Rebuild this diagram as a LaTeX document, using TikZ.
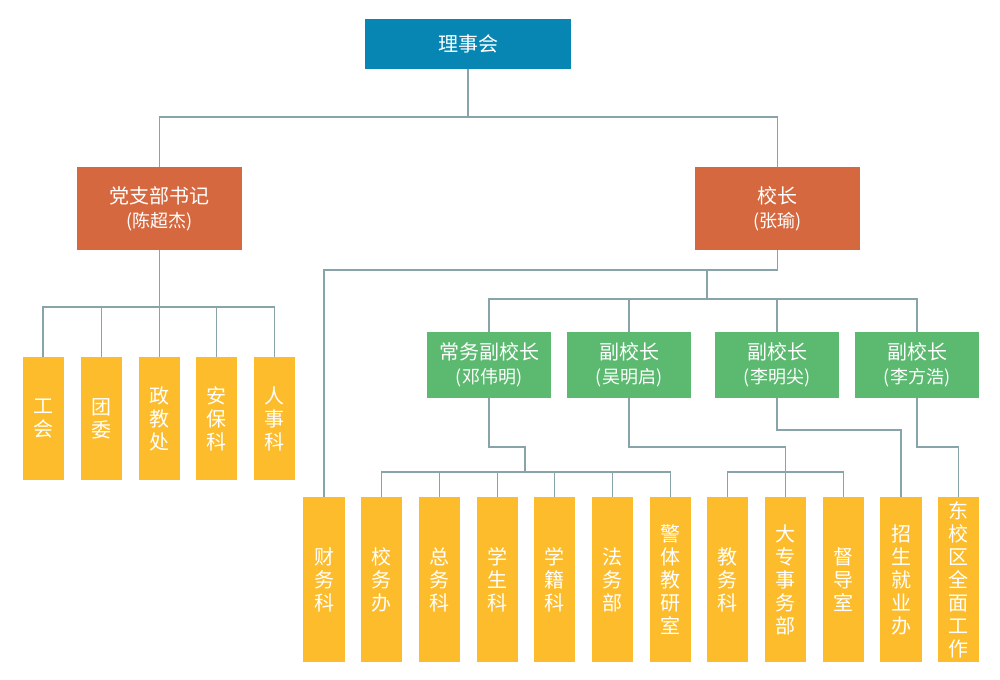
\documentclass[tikz,border=0pt]{standalone}
\usepackage{fontspec}
\setmainfont{Noto Sans CJK SC}
\usepackage{tikz}
\usetikzlibrary{calc}

\definecolor{boardblue}{HTML}{0785B3}
\definecolor{leadorange}{HTML}{D6683F}
\definecolor{vicegreen}{HTML}{5BB970}
\definecolor{deptyellow}{HTML}{FCBC2B}
\definecolor{linegrey}{HTML}{89A4A8}

\newcommand{\who}[1]{{\fontsize{13.5}{16}\selectfont(#1)}}

\tikzset{
	box/.style={inner sep=0pt, text=white, align=center, font=\fontsize{15}{18}\selectfont},
	board/.style={box, fill=boardblue, minimum width=154.5pt, minimum height=37.5pt},
	lead/.style={box, fill=leadorange, minimum width=123.75pt, minimum height=62.25pt},
	vice/.style={box, fill=vicegreen, minimum width=93pt, minimum height=49.5pt},
	dept/.style={box, fill=deptyellow, minimum width=30.75pt, minimum height=92.25pt, font=\fontsize{15}{17.25}\selectfont},
	office/.style={dept, minimum width=31pt, minimum height=123.75pt},
	conn/.style={draw=linegrey, line width=0.9pt}
}

\begin{document}
\begin{tikzpicture}[x=0.75pt, y=-0.75pt]
				\useasboundingbox (0,0) rectangle (1000,680);
				
				\node[board] (R) at (468,44) {理事会};
				\node[lead] (P) at (159.5,208.5) {党支部书记\\\who{陈超杰}};
				\node[lead] (H) at (777.5,208.5) {校长\\\who{张瑜}};
				
				\node[vice] (V1) at (489,365) {常务副校长\\\who{邓伟明}};
				\node[vice] (V2) at (629,365) {副校长\\\who{吴明启}};
				\node[vice] (V3) at (777,365) {副校长\\\who{李明尖}};
				\node[vice] (V4) at (917,365) {副校长\\\who{李方浩}};
				
				\node[dept] (D1) at (43,418.5) {工\\会};
				\node[dept] (D2) at (101.5,418.5) {团\\委};
				\node[dept] (D3) at (159.5,418.5) {政\\教\\处};
				\node[dept] (D4) at (216.5,418.5) {安\\保\\科};
				\node[dept] (D5) at (274.5,418.5) {人\\事\\科};
				
				\node[office] (K1) at (324,579.5) {财\\务\\科};
				\node[office] (K2) at (381.5,579.5) {校\\务\\办};
				\node[office] (K3) at (439.5,579.5) {总\\务\\科};
				\node[office] (K4) at (497.5,579.5) {学\\生\\科};
				\node[office] (K5) at (554.5,579.5) {学\\籍\\科};
				\node[office] (K6) at (612.5,579.5) {法\\务\\部};
				\node[office] (K7) at (670.5,579.5) {警\\体\\教\\研\\室};
				\node[office] (K8) at (727.5,579.5) {教\\务\\科};
				\node[office] (K9) at (785.5,579.5) {大\\专\\事\\务\\部};
				\node[office] (K10) at (843.5,579.5) {督\\导\\室};
				\node[office] (K11) at (901,579.5) {招\\生\\就\\业\\办};
				\node[office] (K12) at (958.5,579.5) {东\\校\\区\\全\\面\\工\\作};
				
				\coordinate (J1) at (468,117);
				\coordinate (J2) at (159.5,307);
				\coordinate (J3) at (707,270);
				\coordinate (J4) at (707,299);
				\coordinate (J5) at (525,447);
				\coordinate (J6) at (525,472);
				\coordinate (J7) at (785.5,447);
				\coordinate (J8) at (785.5,472);
				\coordinate (J9) at (901,430);
				\coordinate (J10) at (958.5,447);
				
				\draw[conn] (R.south) -- (J1);
				\draw[conn] (P.north) |- (J1) -| (H.north);
				
				\draw[conn] (P.south) -- (J2);
				\draw[conn] (D1.north) |- (J2) -| (D5.north);
				\draw[conn] (D2.north) |- (J2);
				\draw[conn] (D3.north) -- (J2);
				\draw[conn] (D4.north) |- (J2);
				
				\draw[conn] (H.south) |- (J3) -| (K1.north);
				\draw[conn] (J3) -- (J4);
				\draw[conn] (V1.north) |- (J4) -| (V4.north);
				\draw[conn] (V2.north) |- (J4);
				\draw[conn] (V3.north) |- (J4);
				
				\draw[conn] (V1.south) |- (J5) -- (J6);
				\draw[conn] (K2.north) |- (J6) -| (K7.north);
				\draw[conn] (K3.north) |- (J6);
				\draw[conn] (K4.north) |- (J6);
				\draw[conn] (K5.north) |- (J6);
				\draw[conn] (K6.north) |- (J6);
				
				\draw[conn] (V2.south) |- (J7) -- (K9.north);
				\draw[conn] (K8.north) |- (J8) -| (K10.north);
				\draw[conn] (V3.south) |- (J9) -- (K11.north);
				\draw[conn] (V4.south) |- (J10) -- (K12.north);
				\end{tikzpicture}
\end{document}
